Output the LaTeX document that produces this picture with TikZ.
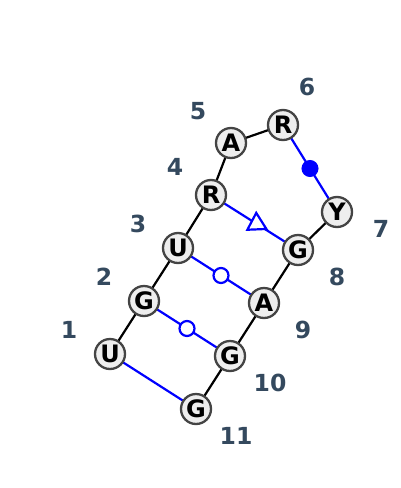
\documentclass[tikz,border=0pt]{standalone}
\usepackage{fontspec}
\setmainfont{DejaVu Sans}
\usetikzlibrary{shapes.geometric,calc}
\definecolor{lab}{RGB}{52,73,94}
\definecolor{nfill}{RGB}{238,238,238}
\definecolor{nborder}{RGB}{68,68,68}
\tikzset{
  x=1pt,y=-1pt,
  nt/.style={circle,draw=nborder,fill=nfill,line width=2.3pt,minimum size=30pt,inner sep=0pt,font=\fontsize{24}{24}\selectfont\bfseries},
  num/.style={text=lab,font=\fontsize{23.5}{24}\selectfont\bfseries},
  bb/.style={black,line width=2.2pt},
  bp/.style={blue,line width=2.2pt},
}
\begin{document}
\begin{tikzpicture}
\useasboundingbox (0,0) rectangle (400,488);
\coordinate (n1) at (110,354);
\coordinate (n2) at (144,301);
\coordinate (n3) at (178,248);
\coordinate (n4) at (211,195);
\coordinate (n5) at (231,143);
\coordinate (n6) at (283,125);
\coordinate (n7) at (337,212);
\coordinate (n8) at (298,250);
\coordinate (n9) at (264,303);
\coordinate (n10) at (230,356);
\coordinate (n11) at (196,409);
% backbone
\draw[bb] (n1) -- (n2) -- (n3) -- (n4) -- (n5) -- (n6);
\draw[bb] (n7) -- (n8) -- (n9) -- (n10) -- (n11);
% pairs
\draw[bp] (n1) -- (n11);
\draw[bp] (n2) -- (n10);
\draw[bp] (n3) -- (n9);
\draw[bp] (n4) -- (n8);
\draw[bp] (n6) -- (n7);
\node[circle,draw=blue,fill=white,line width=2.2pt,minimum size=15pt,inner sep=0pt] (m2) at ($(n2)!0.5!(n10)$) {};
\node[circle,draw=blue,fill=white,line width=2.2pt,minimum size=15pt,inner sep=0pt] (m3) at ($(n3)!0.5!(n9)$) {};
\node[circle,draw=blue,fill=blue,line width=1pt,minimum size=16pt,inner sep=0pt] (m6) at ($(n6)!0.5!(n7)$) {};
\path (n4) -- (n8) coordinate[pos=0.525] (mt);
\begin{scope}[shift={(mt)}]
\draw[bp,fill=white,line join=miter,rotate={atan2(-55,-87)}] (11,0) -- (-5.5,9.5) -- (-5.5,-9.5) -- cycle;
\end{scope}
% nodes
\node[nt] (N1) at (n1) {U};
\node[nt] (N2) at (n2) {G};
\node[nt] (N3) at (n3) {U};
\node[nt] (N4) at (n4) {R};
\node[nt] (N5) at (n5) {A};
\node[nt] (N6) at (n6) {R};
\node[nt] (N7) at (n7) {Y};
\node[nt] (N8) at (n8) {G};
\node[nt] (N9) at (n9) {A};
\node[nt] (N10) at (n10) {G};
\node[nt] (N11) at (n11) {G};
% labels
\node[num] (l1) at (69,330) {1};
\node[num] (l2) at (104,277) {2};
\node[num] (l3) at (138,224) {3};
\node[num] (l4) at (175,167) {4};
\node[num] (l5) at (198,111) {5};
\node[num] (l6) at (307,87) {6};
\node[num] (l7) at (381,229) {7};
\node[num] (l8) at (337,277) {8};
\node[num] (l9) at (303,330) {9};
\node[num] (l10) at (270,383) {10};
\node[num] (l11) at (236,436) {11};
\end{tikzpicture}
\end{document}
